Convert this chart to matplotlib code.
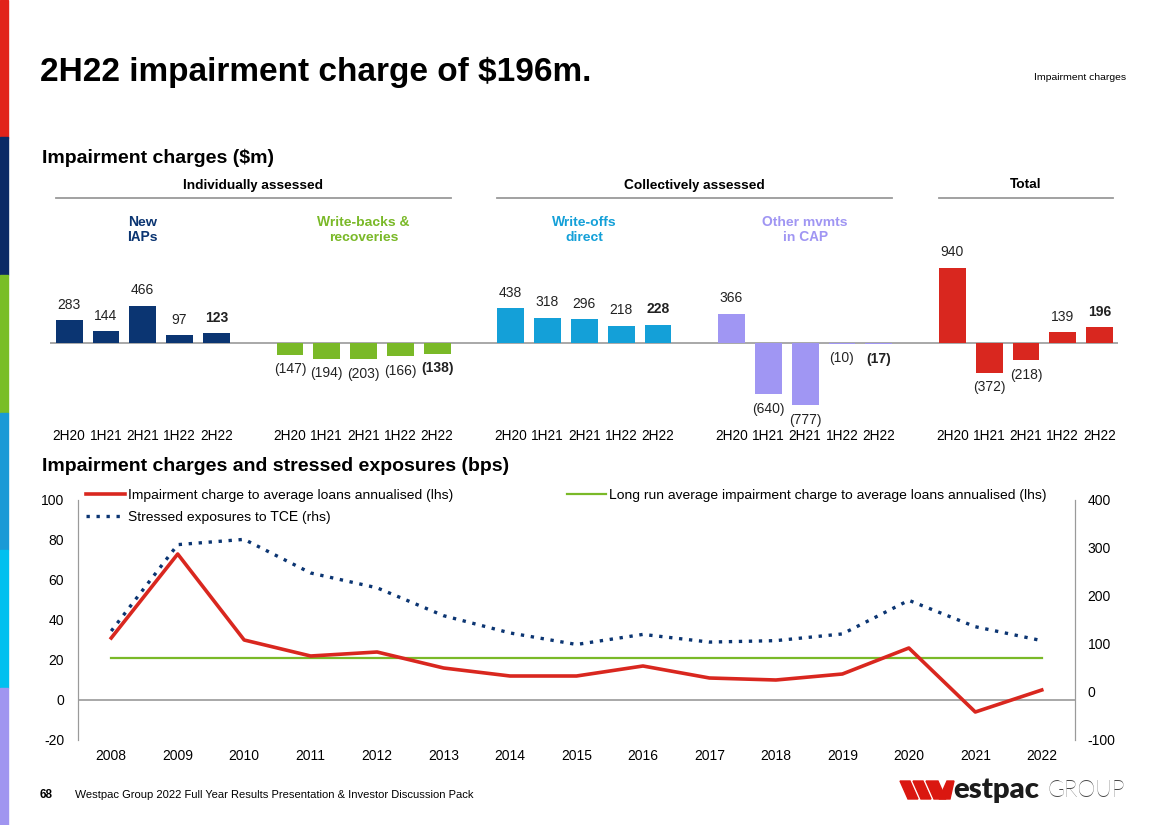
import matplotlib
matplotlib.use("Agg")
import matplotlib.pyplot as plt
import matplotlib.transforms as mtrans
from matplotlib.patches import Rectangle, Polygon
from matplotlib.lines import Line2D

plt.rcParams['font.family'] = ['Liberation Sans', 'DejaVu Sans']
plt.rcParams['axes.unicode_minus'] = False
plt.rcParams['text.hinting'] = 'native'

# ---- datos: cargos por deterioro ($m)
periodos = ["2H20", "1H21", "2H21", "1H22", "2H22"]
grupos = ["New\nIAPs", "Write-backs &\nrecoveries", "Write-offs\ndirect", "Other mvmts\nin CAP", ""]
new_iaps = [283, 144, 466, 97, 123]
write_backs = [-147, -194, -203, -166, -138]
write_offs = [438, 318, 296, 218, 228]
other_cap = [366, -640, -777, -10, -17]
total = [940, -372, -218, 139, 196]
encabezados = ["Individually assessed", "Collectively assessed", "Total"]

# ---- datos: bps
anios = list(range(2008, 2023))
cargo_bps = [31, 73, 30, 22, 24, 16, 12, 12, 17, 11, 10, 13, 26, -6, 5]
promedio_bps = [21] * 15
stressed_bps = [127, 307, 318, 248, 217, 159, 123, 99, 120, 104, 107, 121, 191, 136, 107]

NAVY = '#0b3572'
GREEN = '#7ab928'
BLUE = '#14a0d8'
LAV = '#a096f3'
RED = '#d9271f'
GRIS = '#9a9a9a'
colores = [NAVY, GREEN, BLUE, LAV, RED]

W, H = 1168, 825
fig = plt.figure(figsize=(W / 100, H / 100), dpi=100)


def fx(px):
    return px / W


def fy(py):
    return 1 - py / H


# franja lateral de colores
franja = ['#e2231a', '#0b2a66', '#79be26', '#1a9ad6', '#00c0ef', '#a095f0']
for i, c in enumerate(franja):
    fig.patches.append(Rectangle((0, 1 - (i + 1) / 6), fx(8), 1 / 6,
                                 transform=fig.transFigure, color=c, zorder=0))

fig.text(fx(40), fy(72), "2H22 impairment charge of $196m.", fontsize=24,
         fontweight='bold', va='center')
fig.text(fx(1126), fy(78), "Impairment charges", fontsize=7.5, ha='right', va='center')
fig.text(fx(42), fy(158), "Impairment charges ($m)", fontsize=14, fontweight='bold', va='center')
fig.text(fx(42), fy(466), "Impairment charges and stressed exposures (bps)", fontsize=14,
         fontweight='bold', va='center')

# ---- panel de barras
ax = fig.add_axes([fx(50), fy(420), fx(1118 - 50), (420 - 250) / H])
series = [new_iaps, write_backs, write_offs, other_cap, total]
ancho = 0.73
xt, xl = [], []
tr = mtrans.blended_transform_factory(ax.transData, fig.transFigure)
for g, (vals, col) in enumerate(zip(series, colores)):
    xs = [6 * g + i for i in range(len(vals))]
    ax.bar(xs, vals, width=ancho, color=col, zorder=2)
    for i, (x, v) in enumerate(zip(xs, vals)):
        txt = f"({abs(v)})" if v < 0 else f"{v}"
        peso = 'bold' if i == len(vals) - 1 else 'normal'
        ax.annotate(txt, (x, v), xytext=(0, 6 if v >= 0 else -6), textcoords='offset points',
                    ha='center', va='bottom' if v >= 0 else 'top', fontsize=10,
                    fontweight=peso, color='#222222')
    xt += xs
    xl += periodos
    if grupos[g]:
        ax.text(6 * g + 2, fy(230), grupos[g], transform=tr, ha='center', va='center',
                fontsize=10, fontweight='bold', color=col, linespacing=1.15)

spans = [(0, 10), (12, 22), (24, 28)]
for (a, b), tit in zip(spans, encabezados):
    ax.text((a + b) / 2, fy(185), tit, transform=tr, ha='center', va='center',
            fontsize=9.8, fontweight='bold')
    ax.add_line(Line2D([a - 0.37, b + 0.37], [fy(198)] * 2, transform=tr, color=GRIS,
                       lw=1.3, clip_on=False))

ax.axhline(0, color=GRIS, lw=1.2, zorder=1)
ax.set_xlim(-0.52, 28.5)
ax.set_ylim(-962, 1162)
ax.set_xticks(xt)
ax.set_xticklabels(xl, fontsize=9.8)
ax.tick_params(axis='x', length=0, pad=7)
ax.set_yticks([])
for s in ax.spines.values():
    s.set_visible(False)
ax.patch.set_alpha(0)

# ---- panel de líneas
ax1 = fig.add_axes([fx(78), fy(740), fx(1075 - 78), 240 / H])
l_cargo, = ax1.plot(anios, cargo_bps, color=RED, lw=2.6, zorder=3,
                    label="Impairment charge to average loans annualised (lhs)")
l_prom, = ax1.plot(anios, promedio_bps, color=GREEN, lw=1.6, zorder=2,
                   label="Long run average impairment charge to average loans annualised (lhs)")
ax1.axhline(0, color=GRIS, lw=1.2, zorder=1)
ax1.set_xlim(2007.5, 2022.5)
ax1.set_ylim(-20, 100)
ax1.set_yticks(range(-20, 101, 20))
ax1.set_xticks(anios)
ax1.tick_params(axis='both', length=0, labelsize=10)
ax1.tick_params(axis='y', pad=10)
ax1.tick_params(axis='x', pad=7)

ax2 = ax1.twinx()
l_stress, = ax2.plot(anios, stressed_bps, color=NAVY, lw=2.4, ls=(0, (1, 2)),
                     label="Stressed exposures to TCE (rhs)")
ax2.set_ylim(-100, 400)
ax2.set_yticks(range(-100, 401, 100))
ax2.tick_params(axis='y', length=0, labelsize=10, pad=9)

for a in (ax1, ax2):
    a.spines['top'].set_visible(False)
    a.spines['bottom'].set_visible(False)
    a.spines['left'].set_color(GRIS)
    a.spines['right'].set_color(GRIS)

leg1 = ax2.legend([l_cargo, l_stress], [l_cargo.get_label(), l_stress.get_label()],
                  loc='upper left', bbox_to_anchor=(0.008, 1.045), frameon=False,
                  fontsize=10, handlelength=2.8, handletextpad=0.2, labelspacing=0.6,
                  borderpad=0, borderaxespad=0)
ax2.add_artist(leg1)
ax2.legend([l_prom], [l_prom.get_label()], loc='upper right', bbox_to_anchor=(0.971, 1.045),
           frameon=False, fontsize=10, handlelength=2.8, handletextpad=0.2,
           borderpad=0, borderaxespad=0)

# ---- pie de página
fig.text(fx(40), fy(795), "68", fontsize=8.5, fontweight='bold', va='center')
fig.text(fx(75), fy(795), "Westpac Group 2022 Full Year Results Presentation & Investor Discussion Pack",
         fontsize=8, va='center')
# logo
rojo_logo = '#da1710'
for x0, w in [(900, 10), (913, 10), (926, 12)]:
    fig.patches.append(Polygon([(fx(x0), fy(781)), (fx(x0 + w), fy(781)),
                                (fx(x0 + w + 8), fy(799)), (fx(x0 + 8), fy(799))],
                               closed=True, transform=fig.transFigure, color=rojo_logo))
fig.patches.append(Polygon([(fx(939), fy(799)), (fx(947), fy(781)), (fx(954), fy(781)),
                            (fx(950), fy(799))], closed=True, transform=fig.transFigure,
                           color=rojo_logo))
fig.text(fx(953), fy(790), "estpac", fontsize=21, fontweight='heavy', color='#1c1c1c',
         va='center', family=['Lato', 'DejaVu Sans'])
fig.text(fx(1047), fy(790), "GROUP", fontsize=16.5, fontweight='light', color='#4a4a4a',
         va='center', family=['Lato', 'DejaVu Sans'])

fig.savefig("out.png", dpi=100)
